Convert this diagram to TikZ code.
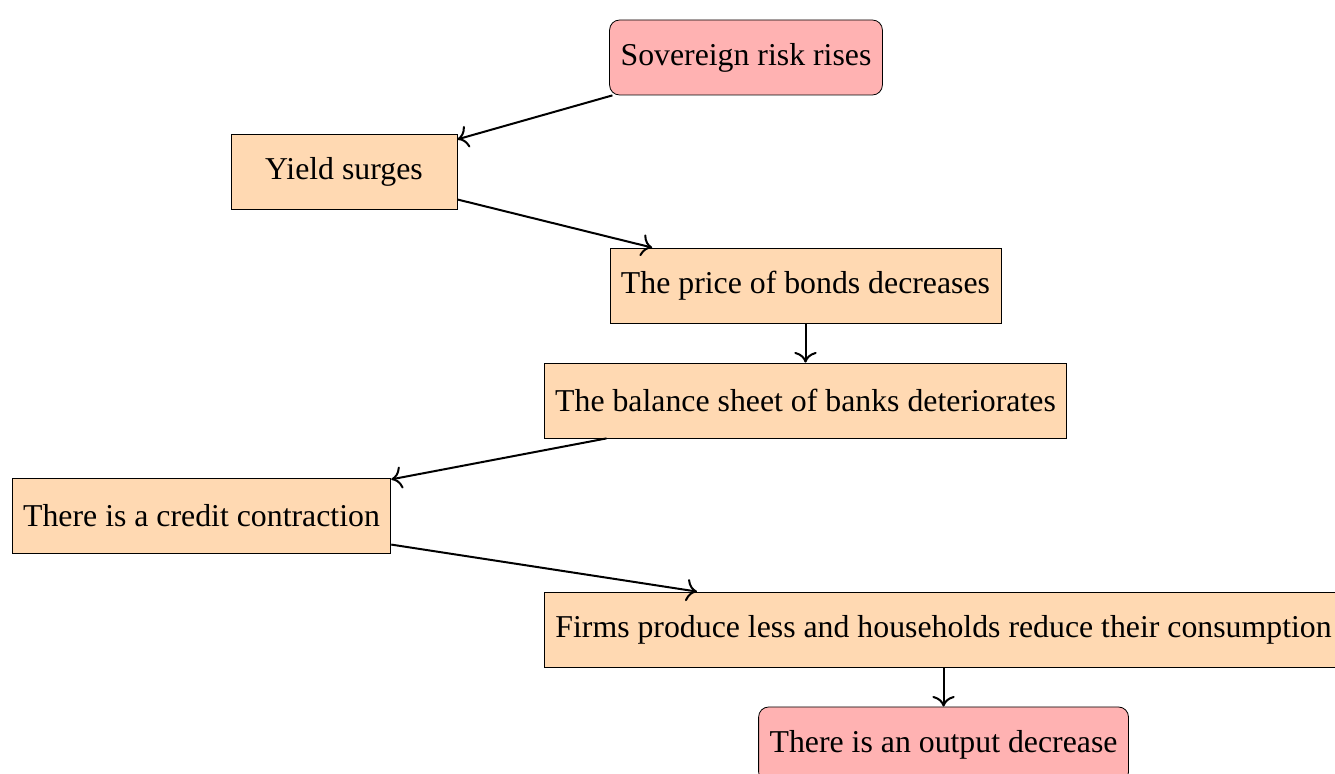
\documentclass[tikz,border=0pt]{standalone}
\usepackage{fontspec}
\setmainfont{Liberation Serif}
\usepackage{tikz}
\usetikzlibrary{positioning, arrows.meta}

\tikzset{
  stepbox/.style={draw, fill=orange!30, minimum width=113pt, minimum height=37.5pt,
    inner sep=5.5pt, font=\fontsize{15.9}{19}\selectfont},
  endbox/.style={stepbox, fill=red!30, rounded corners=5pt},
  link/.style={-{To[scale=1.4]}, line width=1pt}
}

\begin{document}
\begin{tikzpicture}[x=0.5pt, y=-0.5pt]
\useasboundingbox (0,0) rectangle (1335,774);
%
\node (risk)    [endbox]  at (746,57.5)   {Sovereign risk rises};
\node (yield)   [stepbox] at (344,171.5)  {Yield surges};
\node (price)   [stepbox] at (805.5,285.5) {The price of bonds decreases};
\node (balance) [stepbox] at (805.5,400.5) {The balance sheet of banks deteriorates};
\node (credit)  [stepbox] at (201.5,515.5) {There is a credit contraction};
\node (firms)   [stepbox, anchor=west] at (544,629.5) {Firms produce less and households reduce their consumption};
\node (output)  [endbox]  at (firms.south |- 0,744.5) {There is an output decrease};
%
\draw[link] (risk)    -- (yield);
\draw[link] (yield)   -- (price);
\draw[link] (price)   -- (balance);
\draw[link] (balance) -- (credit);
\draw[link] (credit)  -- (firms);
\draw[link] (firms)   -- (output);
\end{tikzpicture}
\end{document}
